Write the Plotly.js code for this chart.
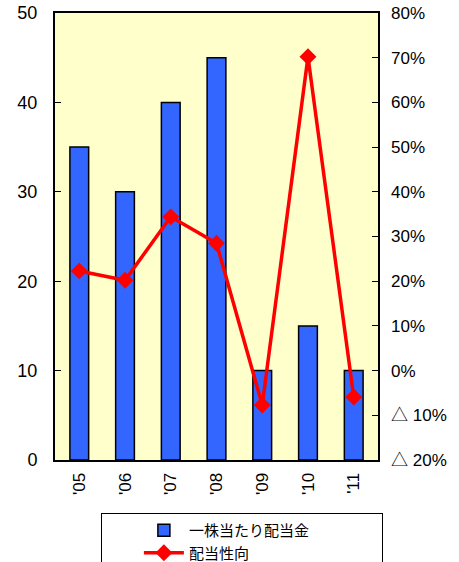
<!DOCTYPE html>
<html>
<head>
<meta charset="utf-8">
<script src="https://cdn.plot.ly/plotly-3.0.1.min.js"></script>
<style>
  html, body { margin: 0; padding: 0; background: #ffffff; }
  #chart { width: 459px; height: 562px; }
</style>
</head>
<body>
<div id="chart"></div>
<script>
var categories = ["'05", "'06", "'07", "'08", "'09", "'10", "'11"];
var dividendPerShare = [35, 30, 40, 45, 10, 15, 10];
var payoutRatio = [22.3, 20.2, 34.4, 28.5, -7.7, 70.2, -5.9];
var leftTicks = [0, 10, 20, 30, 40, 50];
var rightTickVals = [-20, -10, 0, 10, 20, 30, 40, 50, 60, 70, 80];
var rightTickText = ["△ 20%", "△ 10%", "0%", "10%", "20%", "30%", "40%", "50%", "60%", "70%", "80%"];
var barName = "一株当たり配当金";
var lineName = "配当性向";

var tri = "<span style='font-family:Noto Sans CJK JP'>△</span>";
var rightTickHtml = rightTickText.map(function (t) { return t.replace("△ ", tri + "\u00a0"); });

var traces = [
  {
    type: "bar",
    x: categories,
    y: dividendPerShare,
    name: barName,
    marker: { color: "#3366FF", line: { color: "#000000", width: 1.5 } },
    yaxis: "y",
    hoverinfo: "skip"
  },
  {
    type: "scatter",
    mode: "lines+markers",
    x: categories,
    y: payoutRatio,
    name: lineName,
    line: { color: "#FF0000", width: 3.5 },
    marker: { symbol: "diamond", size: 13, color: "#FF0000" },
    yaxis: "y2",
    hoverinfo: "skip"
  }
];

var layout = {
  width: 459,
  height: 562,
  margin: { l: 55, r: 81, t: 13, b: 102, pad: 0 },
  paper_bgcolor: "#ffffff",
  plot_bgcolor: "#FFFFCC",
  font: { family: "Liberation Sans, Arial, sans-serif", size: 17, color: "#000000" },
  bargap: 0.59,
  showlegend: true,
  legend: {
    xref: "paper", yref: "container",
    x: (101 - 55) / 323, y: 1 - 513 / 562, xanchor: "left", yanchor: "top",
    orientation: "h",
    entrywidth: 188,
    bordercolor: "#000000", borderwidth: 1,
    bgcolor: "#ffffff",
    font: { family: "Noto Sans CJK JP, sans-serif", size: 15, color: "#000000" },
    title: { text: "\u00a0\u00a0\u00a0\u00a0\u00a0\u00a0\u00a0\u00a0", side: "left", font: { size: 15 } },
    tracegroupgap: 0,
    itemwidth: 40
  },
  xaxis: {
    type: "category",
    tickangle: -90,
    showline: true, linecolor: "#000000", linewidth: 2, mirror: true,
    ticks: "", showgrid: false, zeroline: false,
    tickfont: { size: 17 },
    ticklabelstandoff: 4,
    automargin: false
  },
  yaxis: {
    range: [0, 50],
    tickvals: leftTicks,
    ticks: "inside", ticklen: 6, tickcolor: "#000000", tickwidth: 1,
    showline: true, linecolor: "#000000", linewidth: 2, mirror: true,
    showgrid: false, zeroline: false,
    tickfont: { size: 18 },
    ticklabelstandoff: 12,
    automargin: false
  },
  yaxis2: {
    range: [-20, 80],
    overlaying: "y",
    side: "right",
    tickvals: rightTickVals,
    ticktext: rightTickHtml,
    ticks: "inside", ticklen: 6, tickcolor: "#000000", tickwidth: 1,
    showline: false, showgrid: false, zeroline: false,
    tickfont: { size: 17 },
    ticklabelstandoff: 12,
    automargin: false
  }
};

Plotly.newPlot("chart", traces, layout, { displayModeBar: false, staticPlot: true });
</script>
</body>
</html>
